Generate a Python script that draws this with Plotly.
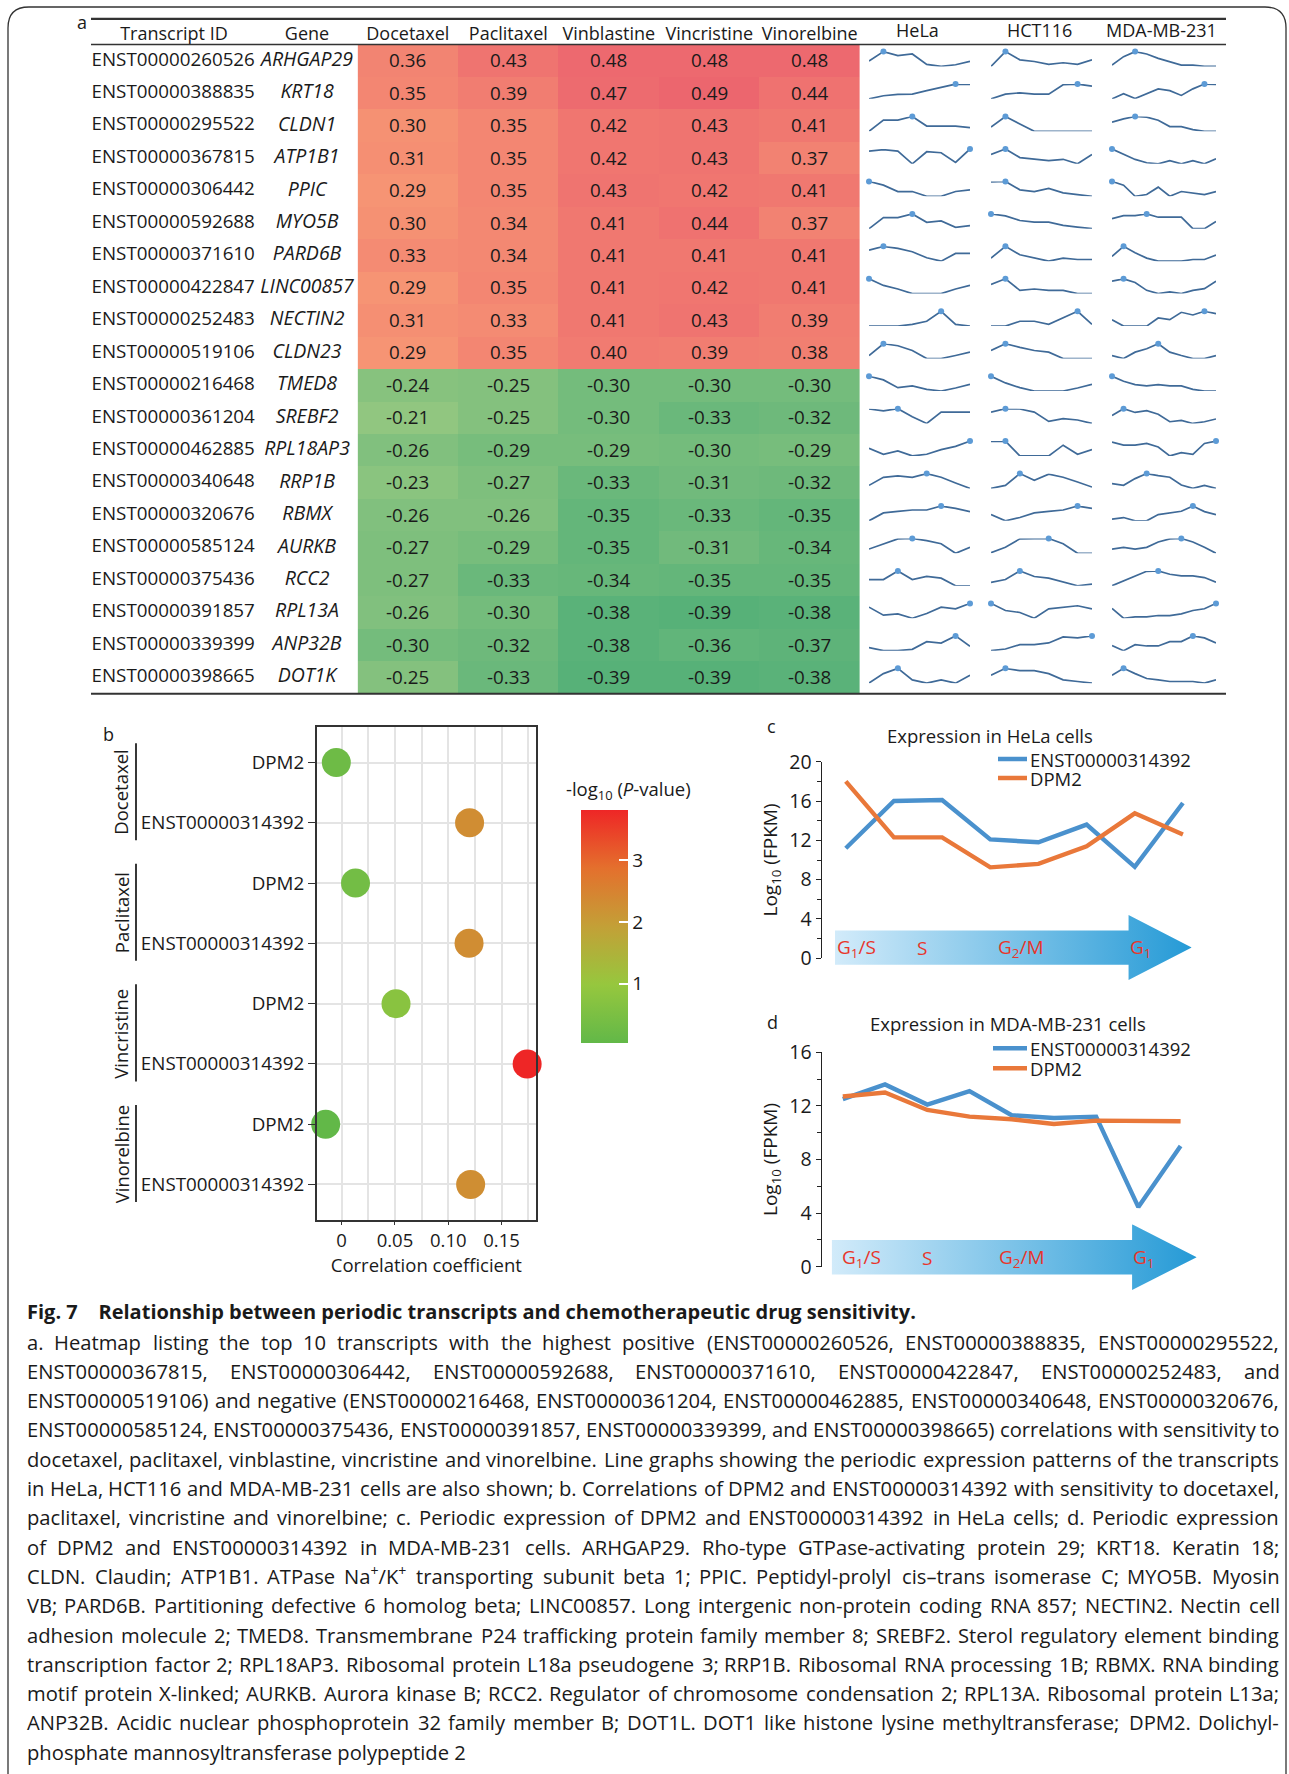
import re
import plotly.graph_objects as go

W, H = 1289, 1774
def px(x): return x / W
def py(y): return 1 - y / H

FONT = "Open Sans, Noto Sans, DejaVu Sans, sans-serif"
TXT = "#1a1a1a"

# ---------------- data: panel a ----------------
transcript_ids = ["ENST00000260526", "ENST00000388835", "ENST00000295522", "ENST00000367815",
                  "ENST00000306442", "ENST00000592688", "ENST00000371610", "ENST00000422847",
                  "ENST00000252483", "ENST00000519106", "ENST00000216468", "ENST00000361204",
                  "ENST00000462885", "ENST00000340648", "ENST00000320676", "ENST00000585124",
                  "ENST00000375436", "ENST00000391857", "ENST00000339399", "ENST00000398665"]
genes = ["ARHGAP29", "KRT18", "CLDN1", "ATP1B1", "PPIC", "MYO5B", "PARD6B", "LINC00857",
         "NECTIN2", "CLDN23", "TMED8", "SREBF2", "RPL18AP3", "RRP1B", "RBMX", "AURKB",
         "RCC2", "RPL13A", "ANP32B", "DOT1K"]
drugs = ["Docetaxel", "Paclitaxel", "Vinblastine", "Vincristine", "Vinorelbine"]
docetaxel = [0.36, 0.35, 0.30, 0.31, 0.29, 0.30, 0.33, 0.29, 0.31, 0.29,
             -0.24, -0.21, -0.26, -0.23, -0.26, -0.27, -0.27, -0.26, -0.30, -0.25]
paclitaxel = [0.43, 0.39, 0.35, 0.35, 0.35, 0.34, 0.34, 0.35, 0.33, 0.35,
              -0.25, -0.25, -0.29, -0.27, -0.26, -0.29, -0.33, -0.30, -0.32, -0.33]
vinblastine = [0.48, 0.47, 0.42, 0.42, 0.43, 0.41, 0.41, 0.41, 0.41, 0.40,
               -0.30, -0.30, -0.29, -0.33, -0.35, -0.35, -0.34, -0.38, -0.38, -0.39]
vincristine = [0.48, 0.49, 0.43, 0.43, 0.42, 0.44, 0.41, 0.42, 0.43, 0.39,
               -0.30, -0.33, -0.30, -0.31, -0.33, -0.31, -0.35, -0.39, -0.36, -0.39]
vinorelbine = [0.48, 0.44, 0.41, 0.37, 0.41, 0.37, 0.41, 0.41, 0.39, 0.38,
               -0.30, -0.32, -0.29, -0.32, -0.35, -0.34, -0.35, -0.38, -0.37, -0.38]

cell_lines = ["HeLa", "HCT116", "MDA-MB-231"]
# relative expression over the cell-cycle time points (read from the sparklines)
hela_profiles = [
    [16, 44, 32, 37, 6, 0, 5, 15], [0, 9, 13, 14, 24, 33, 43, 42], [0, 34, 34, 45, 16, 16, 16, 11],
    [37, 41, 37, 0, 35, 32, 4, 43], [44, 33, 14, 14, 0, 0, 14, 19], [0, 33, 33, 44, 19, 23, 4, 9],
    [33, 44, 38, 28, 10, 0, 23, 23], [45, 25, 14, 0, 0, 0, 14, 25], [0, 0, 0, 5, 14, 43, 5, 0],
    [9, 44, 38, 24, 0, 0, 9, 19], [44, 33, 10, 15, 5, 0, 9, 20], [41, 36, 42, 19, 0, 32, 32, 32],
    [23, 5, 15, 0, 5, 19, 29, 45], [9, 33, 37, 33, 44, 33, 16, 0], [0, 24, 29, 33, 33, 45, 38, 28],
    [12, 27, 41, 42, 36, 27, 0, 17], [18, 18, 43, 18, 27, 22, 0, 0], [33, 9, 13, 0, 14, 33, 28, 44],
    [9, 0, 0, 4, 26, 22, 43, 13], [0, 29, 45, 10, 0, 10, 0, 24]]
hct116_profiles = [
    [0, 45, 20, 15, 6, 11, 6, 20], [0, 14, 18, 14, 14, 42, 44, 38], [14, 48, 24, 0, 0, 0, 0, 0],
    [27, 43, 18, 13, 9, 13, 0, 27], [43, 44, 19, 14, 23, 10, 5, 0], [45, 39, 25, 20, 20, 10, 5, 0],
    [9, 44, 19, 10, 0, 9, 5, 5], [28, 45, 10, 14, 10, 10, 0, 0], [0, 0, 14, 14, 5, 24, 43, 5],
    [24, 44, 33, 24, 19, 0, 0, 0], [44, 24, 10, 0, 0, 0, 9, 20], [33, 43, 42, 33, 6, 14, 10, 0],
    [43, 44, 0, 0, 0, 32, 5, 19], [0, 9, 44, 24, 42, 33, 19, 4], [19, 0, 10, 24, 29, 33, 45, 38],
    [2, 17, 41, 41, 42, 27, 0, 0], [10, 18, 43, 27, 22, 10, 0, 5], [44, 23, 17, 0, 28, 33, 37, 28],
    [0, 5, 18, 18, 23, 41, 38, 44], [24, 45, 38, 38, 29, 10, 5, 0]]
mda_profiles = [
    [4, 29, 44, 37, 24, 14, 4, 4, 0, 0], [0, 15, 1, 15, 29, 24, 10, 29, 43, 42],
    [27, 37, 44, 42, 33, 14, 14, 5, 0, 0], [44, 29, 13, 3, 0, 9, 0, 9, 0, 15],
    [44, 33, 0, 5, 27, 0, 14, 10, 5, 14], [33, 43, 43, 49, 38, 38, 38, 0, 0, 24],
    [14, 44, 25, 9, 0, 0, 0, 5, 5, 18], [38, 45, 34, 10, 0, 5, 0, 10, 15, 38],
    [19, 0, 0, 0, 24, 19, 41, 33, 44, 37], [9, 0, 19, 29, 44, 19, 9, 0, 0, 9],
    [44, 29, 19, 15, 19, 15, 15, 5, 0, 0], [23, 43, 32, 37, 27, 5, 9, 0, 5, 13],
    [42, 33, 33, 38, 27, 0, 10, 5, 38, 45], [14, 9, 29, 44, 38, 33, 10, 0, 9, 0],
    [5, 10, 0, 0, 19, 24, 29, 45, 28, 19], [12, 17, 12, 17, 32, 41, 42, 32, 17, 0],
    [0, 15, 30, 44, 45, 35, 30, 30, 25, 11], [29, 0, 4, 4, 8, 8, 13, 23, 28, 44],
    [15, 0, 18, 14, 14, 27, 27, 44, 38, 23], [24, 45, 29, 14, 10, 5, 5, 5, 0, 10]]

# ---------------- data: panel b ----------------
b_drugs = ["Docetaxel", "Docetaxel", "Paclitaxel", "Paclitaxel",
           "Vincristine", "Vincristine", "Vinorelbine", "Vinorelbine"]
b_features = ["DPM2", "ENST00000314392"] * 4
b_corr = [-0.005, 0.120, 0.013, 0.1195, 0.051, 0.174, -0.015, 0.121]
b_neglogp = [0.25, 2.30, 0.35, 2.30, 0.75, 3.81, 0.04, 2.28]

# ---------------- data: panels c, d ----------------
series_names = ["ENST00000314392", "DPM2"]
hela_enst = [11.2, 16.0, 16.1, 12.1, 11.8, 13.6, 9.3, 15.8]
hela_dpm2 = [18.0, 12.3, 12.3, 9.25, 9.6, 11.4, 14.75, 12.6]
mda_enst = [12.5, 13.6, 12.1, 13.1, 11.3, 11.1, 11.2, 4.45, 9.0]
mda_dpm2 = [12.7, 13.0, 11.7, 11.2, 11.0, 10.65, 10.9, 10.85, 10.85]
phase_labels = ["G<sub>1</sub>/S", "S", "G<sub>2</sub>/M", "G<sub>1</sub>"]

# ---------------- styles ----------------
HEAT_SCALE = [[0.0, "rgb(84,176,120)"], [0.2222, "rgb(148,199,128)"],
              [0.7556, "rgb(246,150,116)"], [1.0, "rgb(236,100,110)"]]
P_SCALE = [[0.0, "rgb(98,184,72)"], [0.25, "rgb(150,199,62)"], [0.5, "rgb(195,160,55)"],
           [0.75, "rgb(228,112,45)"], [1.0, "rgb(238,38,38)"]]
SPARK_LINE = "#3f6a98"
SPARK_DOT = "#5d9bd6"
BLUE = "#4a91cd"
ORANGE = "#e9783a"
PHASE_RED = "#e8352b"

ROW0, ROWH = 60.8, 32.46
NROW = len(transcript_ids)
TAB_FS = 18.8

fig = go.Figure()
layout = {}
annotations = []
shapes = []

def ann(x, y, text, size=18.5, color=TXT, xanchor="center", yanchor="middle", **kw):
    d = dict(x=px(x), y=py(y), xref="paper", yref="paper", text=text, showarrow=False,
             xanchor=xanchor, yanchor=yanchor, font=dict(family=FONT, size=size, color=color))
    d.update(kw)
    annotations.append(d)

# ---------- heatmap (axis 1) ----------
z = [list(r) for r in zip(docetaxel, paclitaxel, vinblastine, vincristine, vinorelbine)]
ztext = [[f"{v:.2f}" for v in r] for r in z]
rows = list(range(NROW))
fig.add_trace(go.Heatmap(z=z, x=drugs, y=rows, text=ztext, texttemplate="%{text}",
                         textfont=dict(family=FONT, size=TAB_FS, color=TXT),
                         colorscale=HEAT_SCALE, zmin=-0.40, zmax=0.50, showscale=False,
                         hoverinfo="skip", xaxis="x", yaxis="y"))
tab_top, tab_bot = ROW0 - ROWH / 2, ROW0 + ROWH * (NROW - 0.5)
layout["xaxis"] = dict(domain=[px(357.6), px(860)], side="top", type="category",
                       showgrid=False, zeroline=False, showline=False, ticks="", automargin=False,
                       tickfont=dict(family=FONT, size=18, color=TXT), anchor="y")
layout["yaxis"] = dict(domain=[py(tab_bot), py(tab_top)], range=[NROW - 0.5, -0.5],
                       visible=False, anchor="x")

# ---------- id / gene text columns (axis 2) ----------
fig.add_trace(go.Scatter(x=[0] * NROW, y=rows, mode="text", text=transcript_ids,
                         textposition="middle right", hoverinfo="skip",
                         textfont=dict(family=FONT, size=TAB_FS, color=TXT), xaxis="x2", yaxis="y2"))
fig.add_trace(go.Scatter(x=[0.81] * NROW, y=rows, mode="text", text=genes,
                         textposition="middle center", hoverinfo="skip",
                         textfont=dict(family=FONT, size=19.5, color=TXT, style="italic"),
                         xaxis="x2", yaxis="y2"))
layout["xaxis2"] = dict(domain=[px(91.5), px(357.6)], range=[0, 1], side="top",
                        tickvals=[0.31, 0.81], ticktext=["Transcript ID", "Gene"],
                        showgrid=False, zeroline=False, showline=False, ticks="", automargin=False,
                        tickfont=dict(family=FONT, size=18, color=TXT), anchor="y2")
layout["yaxis2"] = dict(domain=[py(tab_bot), py(tab_top)], range=[NROW - 0.5, -0.5],
                        visible=False, anchor="x2")

# ---------- sparklines (axes 8..67) ----------
spark_cols = [(hela_profiles, 869, 970), (hct116_profiles, 991, 1092), (mda_profiles, 1112, 1216)]
n = 8
for ci, (profiles, x0, x1) in enumerate(spark_cols):
    for r, prof in enumerate(profiles):
        xs = list(range(len(prof)))
        imax = prof.index(max(prof))
        fig.add_trace(go.Scatter(x=xs, y=prof, mode="lines", line=dict(color=SPARK_LINE, width=1.7),
                                 cliponaxis=False, hoverinfo="skip", xaxis=f"x{n}", yaxis=f"y{n}"))
        fig.add_trace(go.Scatter(x=[xs[imax]], y=[prof[imax]], mode="markers",
                                 marker=dict(color=SPARK_DOT, size=6), cliponaxis=False,
                                 hoverinfo="skip", xaxis=f"x{n}", yaxis=f"y{n}"))
        cy = ROW0 + r * ROWH - 1.8
        layout[f"xaxis{n}"] = dict(domain=[px(x0), px(x1)], range=[0, len(prof) - 1],
                                   visible=False, anchor=f"y{n}")
        layout[f"yaxis{n}"] = dict(domain=[py(cy + 7.4), py(cy - 7.4)], range=[min(prof), max(prof)],
                                   visible=False, anchor=f"x{n}")
        n += 1
    ann((x0 + x1) / 2 - 2.5, 30.5, cell_lines[ci], size=18)

# table rules
for yy, wd in [(18.8, 2.2), (tab_top, 1.6), (tab_bot, 2.2)]:
    shapes.append(dict(type="line", xref="paper", yref="paper", x0=px(91), x1=px(1226),
                       y0=py(yy), y1=py(yy), line=dict(color="#333333", width=wd)))

# ---------- panel b (axis 3) ----------
b_y = list(range(len(b_corr)))
fig.add_trace(go.Scatter(x=b_corr, y=b_y, mode="markers", cliponaxis=False, hoverinfo="skip",
                         marker=dict(size=29, color=b_neglogp, colorscale=P_SCALE,
                                     cmin=min(b_neglogp), cmax=max(b_neglogp), line=dict(width=0),
                                     colorbar=dict(x=px(581), xanchor="left", y=py(1043), yanchor="bottom",
                                                   len=233, lenmode="pixels", thickness=47,
                                                   thicknessmode="pixels", outlinewidth=0,
                                                   tickvals=[1, 2, 3], ticks="inside", ticklen=9,
                                                   tickcolor="white", tickwidth=1.5,
                                                   tickfont=dict(family=FONT, size=19, color=TXT),
                                                   xpad=0, ypad=0)),
                         xaxis="x3", yaxis="y3"))
layout["xaxis3"] = dict(domain=[px(316.7), px(536)], range=[-0.0234, 0.1823],
                        tickvals=[0, 0.05, 0.10, 0.15], ticktext=["0", "0.05", "0.10", "0.15"],
                        showgrid=True, gridcolor="#e4e4e4", gridwidth=2,
                        minor=dict(dtick=0.025, tick0=0, showgrid=True, gridcolor="#e4e4e4", gridwidth=1.5),
                        zeroline=False, showline=True, mirror=True, linecolor="#333333", linewidth=1.5,
                        ticks="outside", ticklen=3, tickcolor="#333333", automargin=False,
                        tickfont=dict(family=FONT, size=18.5, color=TXT),
                        title=dict(text="Correlation coefficient", standoff=2,
                                   font=dict(family=FONT, size=18.5, color=TXT)),
                        anchor="y3")
layout["yaxis3"] = dict(domain=[py(1220), py(727)], range=[len(b_y) - 0.41, -0.59],
                        tickvals=b_y, ticktext=b_features, showgrid=True, gridcolor="#e4e4e4",
                        gridwidth=2, zeroline=False, showline=True, mirror=True, automargin=False,
                        linecolor="#333333", linewidth=1.5, ticks="outside", ticklen=7,
                        tickcolor="#333333", tickfont=dict(family=FONT, size=TAB_FS, color=TXT),
                        anchor="x3")
groups = []
for d in b_drugs:
    if d not in groups:
        groups.append(d)
for g in groups:
    idx = [i for i, d in enumerate(b_drugs) if d == g]
    lo, hi = min(idx), max(idx)
    shapes.append(dict(type="line", xref="paper", yref="y3", x0=px(136), x1=px(136),
                       y0=lo - 0.32, y1=hi + 0.29, line=dict(color="#222222", width=1.8)))
    annotations.append(dict(x=px(121), y=(lo + hi) / 2, xref="paper", yref="y3", text=g,
                            textangle=-90, showarrow=False, xanchor="center", yanchor="middle",
                            font=dict(family=FONT, size=18.5, color=TXT)))
ann(628, 790, "-log<sub>10</sub> (<i>P</i>-value)")

# ---------- panels c and d ----------
def arrow_trace(xa, ya):
    return go.Scatter(x=[0, 0.823, 0.823, 1, 0.823, 0.823, 0, 0],
                      y=[0.235, 0.235, 0, 0.5, 1, 0.76, 0.76, 0.235],
                      mode="lines", fill="toself", line=dict(width=0, color="rgba(0,0,0,0)"),
                      fillgradient=dict(type="horizontal",
                                        colorscale=[[0, "#d2ebfa"], [1, "#259ad6"]]),
                      hoverinfo="skip", xaxis=xa, yaxis=ya)

def yaxis_style(dom, rng):
    return dict(domain=dom, range=rng, dtick=4, tick0=0, showgrid=False, zeroline=False,
                showline=True, linecolor="#222222", linewidth=1.3, ticks="outside", ticklen=5,
                tickcolor="#222222", automargin=False,
                minor=dict(dtick=2, tick0=0, ticks="outside", ticklen=4, tickcolor="#222222"),
                tickfont=dict(family=FONT, size=19.5, color=TXT),
                title=dict(text="Log<sub>10</sub> (FPKM)", standoff=6,
                           font=dict(family=FONT, size=19, color=TXT)))

panels = [
    dict(xa="x4", ya="y4", axa="x5", aya="y5", enst=hela_enst, dpm2=hela_dpm2,
         xdom=[821.7, 1207], ydom=[958.3, 761.7], yr=[0, 20], adom_x=[835, 1191.7], adom_y=[980, 915],
         title="Expression in HeLa cells", tx=990, ty=735, letter="c", lx=771, ly=726,
         leg_y=[759, 778], leg_x=[998, 1027], phase_x=[857, 922, 1020.7, 1140], phase_y=948),
    dict(xa="x6", ya="y6", axa="x7", aya="y7", enst=mda_enst, dpm2=mda_dpm2,
         xdom=[821.7, 1201.7], ydom=[1266.7, 1052.3], yr=[0, 16], adom_x=[831.7, 1196.7],
         adom_y=[1290, 1224.3], title="Expression in MDA-MB-231 cells", tx=1008, ty=1023,
         letter="d", lx=772, ly=1022, leg_y=[1048.3, 1068.3], leg_x=[993, 1027],
         phase_x=[861.7, 926.7, 1021.7, 1143.3], phase_y=1258.3),
]
for p in panels:
    fig.add_trace(arrow_trace(p["axa"], p["aya"]))
    npts = len(p["enst"])
    xs = list(range(npts))
    for name, vals, col in [(series_names[0], p["enst"], BLUE), (series_names[1], p["dpm2"], ORANGE)]:
        fig.add_trace(go.Scatter(x=xs, y=vals, mode="lines", name=name,
                                 line=dict(color=col, width=4.4), hoverinfo="skip",
                                 xaxis=p["xa"], yaxis=p["ya"]))
    layout[p["xa"].replace("x", "xaxis")] = dict(domain=[px(p["xdom"][0]), px(p["xdom"][1])],
                                               range=[-0.5, npts - 0.5], visible=False,
                                               anchor=p["ya"])
    layout[p["ya"].replace("y", "yaxis")] = dict(**yaxis_style([py(p["ydom"][0]), py(p["ydom"][1])],
                                                               p["yr"]), anchor=p["xa"])
    layout[p["axa"].replace("x", "xaxis")] = dict(domain=[px(p["adom_x"][0]), px(p["adom_x"][1])],
                                                range=[0, 1], visible=False, anchor=p["aya"])
    layout[p["aya"].replace("y", "yaxis")] = dict(domain=[py(p["adom_y"][0]), py(p["adom_y"][1])],
                                                range=[0, 1], visible=False, anchor=p["axa"])
    ann(p["tx"], p["ty"], p["title"])
    ann(p["lx"], p["ly"], p["letter"], size=18)
    for name, col, ly in [(series_names[0], BLUE, p["leg_y"][0]), (series_names[1], ORANGE, p["leg_y"][1])]:
        shapes.append(dict(type="line", xref="paper", yref="paper", x0=px(p["leg_x"][0]),
                           x1=px(p["leg_x"][1]), y0=py(ly), y1=py(ly),
                           line=dict(color=col, width=4.5)))
        ann(p["leg_x"][1] + 1, ly, name, xanchor="left")
    for lab, lx in zip(phase_labels, p["phase_x"]):
        ann(lx, p["phase_y"], lab, size=19, color=PHASE_RED)

# ---------- panel letters a, b ----------
ann(82, 22, "a", size=18)
ann(108, 734, "b", size=18)

# ---------- caption (justified by placing words) ----------
cap_title = "<b>Fig. 7\u00a0\u00a0\u00a0 Relationship between periodic transcripts and chemotherapeutic drug sensitivity.</b>"
cap_lines = [
    "a. Heatmap listing the top 10 transcripts with the highest positive (ENST00000260526, ENST00000388835, ENST00000295522,",
    "ENST00000367815, ENST00000306442, ENST00000592688, ENST00000371610, ENST00000422847, ENST00000252483, and",
    "ENST00000519106) and negative (ENST00000216468, ENST00000361204, ENST00000462885, ENST00000340648, ENST00000320676,",
    "ENST00000585124, ENST00000375436, ENST00000391857, ENST00000339399, and ENST00000398665) correlations with sensitivity to",
    "docetaxel, paclitaxel, vinblastine, vincristine and vinorelbine. Line graphs showing the periodic expression patterns of the transcripts",
    "in HeLa, HCT116 and MDA-MB-231 cells are also shown; b. Correlations of DPM2 and ENST00000314392 with sensitivity to docetaxel,",
    "paclitaxel, vincristine and vinorelbine; c. Periodic expression of DPM2 and ENST00000314392 in HeLa cells; d. Periodic expression",
    "of DPM2 and ENST00000314392 in MDA-MB-231 cells. ARHGAP29. Rho-type GTPase-activating protein 29; KRT18. Keratin 18;",
    "CLDN. Claudin; ATP1B1. ATPase Na<sup>+</sup>/K<sup>+</sup> transporting subunit beta 1; PPIC. Peptidyl-prolyl cis\u2013trans isomerase C; MYO5B. Myosin",
    "VB; PARD6B. Partitioning defective 6 homolog beta; LINC00857. Long intergenic non-protein coding RNA 857; NECTIN2. Nectin cell",
    "adhesion molecule 2; TMED8. Transmembrane P24 trafficking protein family member 8; SREBF2. Sterol regulatory element binding",
    "transcription factor 2; RPL18AP3. Ribosomal protein L18a pseudogene 3; RRP1B. Ribosomal RNA processing 1B; RBMX. RNA binding",
    "motif protein X-linked; AURKB. Aurora kinase B; RCC2. Regulator of chromosome condensation 2; RPL13A. Ribosomal protein L13a;",
    "ANP32B. Acidic nuclear phosphoprotein 32 family member B; DOT1L. DOT1 like histone lysine methyltransferase; DPM2. Dolichyl-",
    "phosphate mannosyltransferase polypeptide 2",
]
# approximate Open Sans advance widths (em), used to justify the caption lines
CW = dict(zip("abcdefghijklmnopqrstuvwxyz",
              [.556, .613, .476, .613, .561, .339, .548, .614, .253, .253, .525, .253, .930,
               .614, .604, .613, .613, .408, .477, .353, .614, .501, .778, .524, .502, .477]))
CW.update(dict(zip("ABCDEFGHIJKLMNOPQRSTUVWXYZ",
                   [.633, .648, .631, .729, .556, .516, .728, .738, .279, .267, .614, .522, .903,
                    .754, .779, .602, .779, .618, .539, .542, .742, .588, .921, .563, .544, .551])))
CW.update({c: .572 for c in "0123456789+"})
CW.update({",": .245, ".": .266, ";": .266, ":": .266, "(": .293, ")": .293, "-": .322,
           "/": .368, "\u2013": .5, " ": .26})

def word_w(word, size):
    w = 0.0
    for m in re.finditer(r"<sup>(.*?)</sup>|([^<]+)", word):
        if m.group(1) is not None:
            w += sum(CW.get(c, .57) for c in m.group(1)) * 0.7
        else:
            w += sum(CW.get(c, .57) for c in m.group(2))
    return w * size * 1.01

CAP_FS = 20.2
CAP_L, CAP_R = 25, 1278
ann(CAP_L, 1311, cap_title, size=20, xanchor="left")
for i, line in enumerate(cap_lines):
    yline = 1341.5 + 29.3 * i
    words = line.split(" ")
    if i == len(cap_lines) - 1:
        ann(CAP_L, yline, line, size=CAP_FS, xanchor="left")
        continue
    widths = [word_w(w_, CAP_FS) for w_ in words]
    gap = (CAP_R - CAP_L - sum(widths)) / (len(words) - 1)
    gap = max(gap, 0.2 * CAP_FS)
    xcur = CAP_L
    for w_, wd in zip(words, widths):
        ann(xcur, yline, w_, size=CAP_FS, xanchor="left")
        xcur += wd + gap

# ---------- outer frame ----------
frame = (f"M {px(8)},{py(1774)} L {px(8)},{py(28)} Q {px(8)},{py(7)} {px(29)},{py(7)} "
         f"L {px(1265)},{py(7)} Q {px(1286)},{py(7)} {px(1286)},{py(28)} L {px(1286)},{py(1774)}")
shapes.append(dict(type="path", xref="paper", yref="paper", path=frame,
                   line=dict(color="#333333", width=1.3)))

fig.update_layout(width=W, height=H, margin=dict(l=0, r=0, t=0, b=0, autoexpand=False),
                  paper_bgcolor="white", plot_bgcolor="white", showlegend=False,
                  font=dict(family=FONT, color=TXT), annotations=annotations, shapes=shapes,
                  **layout)
fig.write_html("out.html")
